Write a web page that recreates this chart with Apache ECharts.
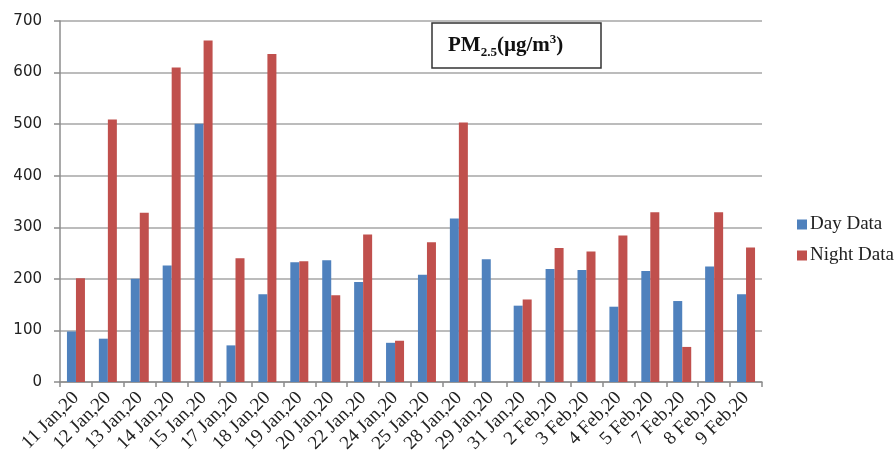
<!DOCTYPE html>
<html>
<head>
<meta charset="utf-8">
<script src="https://cdn.jsdelivr.net/npm/echarts@6/dist/echarts.min.js"></script>
<style>
  html, body { margin: 0; padding: 0; background: #fff; }
  #chart { width: 896px; height: 458px; }
</style>
</head>
<body>
<div id="chart"></div>
<script>
const dates = ['11 Jan,20', '12 Jan,20', '13 Jan,20', '14 Jan,20', '15 Jan,20', '17 Jan,20',
  '18 Jan,20', '19 Jan,20', '20 Jan,20', '22 Jan,20', '24 Jan,20', '25 Jan,20', '28 Jan,20',
  '29 Jan,20', '31 Jan,20', '2 Feb,20', '3 Feb,20', '4 Feb,20', '5 Feb,20', '7 Feb,20',
  '8 Feb,20', '9 Feb,20'];
const dayData = [98, 84, 200, 226, 501, 71, 170, 232, 236, 194, 76, 208, 317,
  238, 148, 219, 217, 146, 215, 157, 224, 170];
const nightData = [201, 509, 328, 610, 662, 240, 636, 234, 168, 286, 80, 271, 503,
  null, 160, 260, 253, 284, 329, 68, 329, 261];
const yTicks = { min: 0, max: 700, step: 100 };

const chart = echarts.init(document.getElementById('chart'));

const serif = '"Liberation Serif", "Times New Roman", serif';

chart.setOption({
  animation: false,
  title: {
    text: '{a|PM}{s|2.5}{a|(µg/m}{p|3}{a|)}',
    left: 432,
    top: 23,
    borderColor: '#333',
    borderWidth: 1.5,
    padding: [10, 38, 9, 16],
    textStyle: {
      rich: {
        a: { fontFamily: serif, fontWeight: 'bold', fontSize: 21, color: '#111', lineHeight: 26 },
        s: { fontFamily: serif, fontWeight: 'bold', fontSize: 13, color: '#111', verticalAlign: 'bottom', lineHeight: 16 },
        p: { fontFamily: serif, fontWeight: 'bold', fontSize: 13, color: '#111', verticalAlign: 'top', lineHeight: 14 }
      }
    }
  },
  legend: {
    orient: 'vertical',
    left: 792,
    top: 210,
    itemWidth: 10,
    itemHeight: 10,
    itemGap: 12,
    icon: 'rect',
    textStyle: { fontFamily: serif, fontSize: 19, color: '#222', padding: [0, 0, 0, -2] },
    data: ['Day Data', 'Night Data']
  },
  grid: { left: 60, right: 134, top: 21, bottom: 76, containLabel: false },
  xAxis: {
    type: 'category',
    data: dates,
    axisLine: { lineStyle: { color: '#8c8c8c', width: 1.5 } },
    axisTick: { show: true, length: 5, lineStyle: { color: '#8c8c8c', width: 1.5 } },
    axisLabel: {
      interval: 0,
      rotate: 45,
      margin: 13,
      fontFamily: serif,
      fontSize: 19,
      color: '#222'
    }
  },
  yAxis: {
    type: 'value',
    min: yTicks.min,
    max: yTicks.max,
    interval: yTicks.step,
    axisLine: { show: true, lineStyle: { color: '#8c8c8c', width: 1.5 } },
    axisTick: { show: true, length: 6, lineStyle: { color: '#8c8c8c', width: 1.5 } },
    axisLabel: { margin: 18, fontFamily: '"DejaVu Sans", sans-serif', fontSize: 15, color: '#222' },
    splitLine: { lineStyle: { color: '#a6a6a6', width: 1.5 } }
  },
  series: [
    {
      name: 'Day Data',
      type: 'bar',
      data: dayData,
      barWidth: 9,
      barGap: '0%',
      itemStyle: { color: '#4f81bd' }
    },
    {
      name: 'Night Data',
      type: 'bar',
      data: nightData,
      barWidth: 9,
      itemStyle: { color: '#c0504d' }
    }
  ]
});
</script>
</body>
</html>
